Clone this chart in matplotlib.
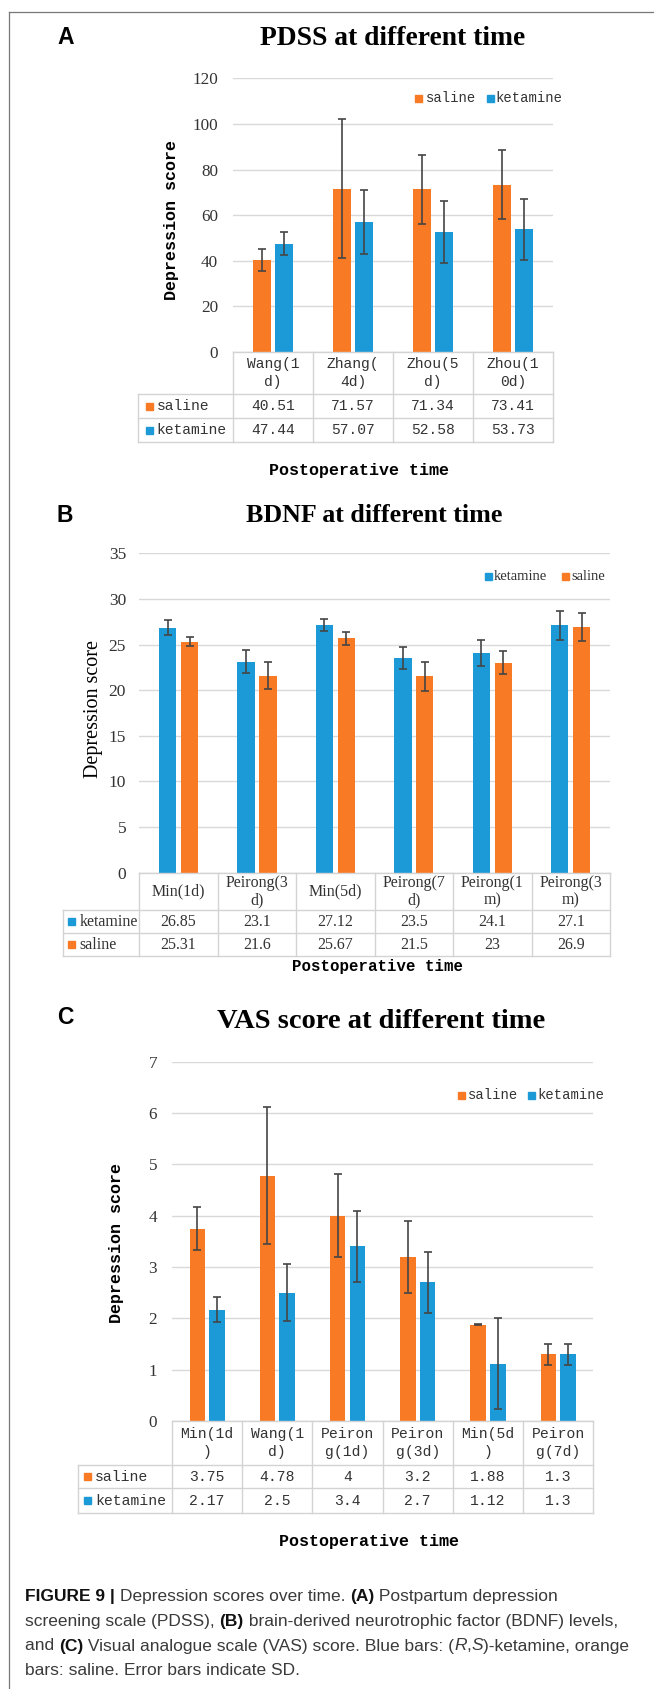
import numpy as np
import matplotlib
matplotlib.use('Agg')
import matplotlib.pyplot as plt
from matplotlib.lines import Line2D
from matplotlib.patches import Rectangle

# ---- data ----
cats_a = ['Wang(1\nd)', 'Zhang(\n4d)', 'Zhou(5\nd)', 'Zhou(1\n0d)']
saline_a = [40.51, 71.57, 71.34, 73.41]
ket_a = [47.44, 57.07, 52.58, 53.73]
saline_sd_a = [4.8, 30.5, 15.2, 15.2]
ket_sd_a = [5.1, 14.0, 13.5, 13.3]

cats_b = ['Min(1d)', 'Peirong(3\nd)', 'Min(5d)', 'Peirong(7\nd)', 'Peirong(1\nm)', 'Peirong(3\nm)']
ket_b = [26.85, 23.1, 27.12, 23.5, 24.1, 27.1]
saline_b = [25.31, 21.6, 25.67, 21.5, 23, 26.9]
ket_sd_b = [0.8, 1.25, 0.65, 1.2, 1.4, 1.55]
saline_sd_b = [0.5, 1.5, 0.75, 1.6, 1.25, 1.55]

cats_c = ['Min(1d\n)', 'Wang(1\nd)', 'Peiron\ng(1d)', 'Peiron\ng(3d)', 'Min(5d\n)', 'Peiron\ng(7d)']
saline_c = [3.75, 4.78, 4, 3.2, 1.88, 1.3]
ket_c = [2.17, 2.5, 3.4, 2.7, 1.12, 1.3]
saline_sd_c = [0.42, 1.34, 0.81, 0.7, 0.01, 0.2]
ket_sd_c = [0.24, 0.55, 0.7, 0.6, 0.88, 0.2]

ORANGE = '#F97A24'
BLUE = '#1B9AD7'
GRID = '#D9D9D9'
TBL = '#D3D3D3'
TXT = '#333333'
MONO = 'Liberation Mono'
SERIF = 'Liberation Serif'

W, H = 654, 1689
fig = plt.figure(figsize=(W / 100, H / 100), dpi=100)


def fx(x):
    return x / W


def fy(y):
    return 1 - y / H


def hline(x0, x1, y, color=TBL, lw=1.0):
    fig.add_artist(Line2D([fx(x0), fx(x1)], [fy(y), fy(y)], color=color, lw=lw, transform=fig.transFigure))


def vline(x, y0, y1, color=TBL, lw=1.0):
    fig.add_artist(Line2D([fx(x), fx(x)], [fy(y0), fy(y1)], color=color, lw=lw, transform=fig.transFigure))


def square(x, y, color, s=7):
    fig.add_artist(Rectangle((fx(x), fy(y + s / 2)), s / W, s / H, color=color, transform=fig.transFigure))


def panel(box, cats, series, ymax, ystep, rows, label_left, tfont, tsize, head_ls,
          sq_dx, txt_dx, tick_size, tick_pad, legend, legfont, legsize, capsize):
    left, top, right, bottom = box
    ax = fig.add_axes([fx(left), fy(bottom), (right - left) / W, (bottom - top) / H])
    n = len(cats)
    x = np.arange(n)
    for k, (name, vals, sds, col) in enumerate(series):
        off = -0.14 if k == 0 else 0.14
        ax.bar(x + off, vals, width=0.22, color=col, zorder=2)
        ax.errorbar(x + off, vals, yerr=sds, fmt='none', ecolor='#454545', elinewidth=1.2,
                    capsize=capsize, capthick=1.2, zorder=3)
    ax.set_xlim(-0.5, n - 0.5)
    ax.set_ylim(0, ymax)
    ax.set_yticks(np.arange(0, ymax + ystep / 2, ystep))
    ax.yaxis.grid(True, color=GRID, lw=1.0, zorder=0)
    ax.set_axisbelow(True)
    ax.set_xticks([])
    for s in ax.spines.values():
        s.set_visible(False)
    ax.tick_params(axis='y', length=0, pad=tick_pad, labelsize=tick_size, labelcolor=TXT)
    for t in ax.get_yticklabels():
        t.set_fontfamily(SERIF)

    # data table under the plot
    colw = (right - left) / n
    r0, r1, r2 = rows
    hline(left, right, bottom)
    for yy in (r0, r1, r2):
        hline(label_left, right, yy)
    for i in range(n + 1):
        vline(left + i * colw, bottom, r2)
    vline(label_left, r0, r2)
    for i, c in enumerate(cats):
        fig.text(fx(left + (i + 0.5) * colw), fy((bottom + r0) / 2), c, ha='center', va='center',
                 family=tfont, size=tsize, linespacing=head_ls, color=TXT)
    for j, (name, vals, sds, col) in enumerate(series):
        ya, yb = (r0, r1) if j == 0 else (r1, r2)
        yc = (ya + yb) / 2
        square(label_left + sq_dx, yc, col)
        fig.text(fx(label_left + txt_dx), fy(yc), name, ha='left', va='center', family=tfont,
                 size=tsize, color=TXT)
        for i, v in enumerate(vals):
            fig.text(fx(left + (i + 0.5) * colw), fy(yc), f'{v:g}', ha='center', va='center',
                     family=tfont, size=tsize, color=TXT)

    # legend
    for (lx, ly, tx), (name, vals, sds, col) in zip(legend, series):
        square(lx, ly, col)
        fig.text(fx(tx), fy(ly), name, ha='left', va='center', family=legfont,
                 size=legsize, color=TXT)
    return ax


# frame
hline(9.3, 654, 11.5, color='#777777', lw=0.9)
vline(9.3, 11.5, 1689, color='#777777', lw=0.9)

# ---- panel A ----
fig.text(fx(66), fy(38), 'A', ha='center', va='center', family='Liberation Sans', weight='bold', size=16.5)
fig.text(fx(392.5), fy(38.3), 'PDSS at different time', ha='center', va='center', family=SERIF,
         weight='bold', size=19.8)
panel((233, 78.3, 553, 352), cats_a,
      [('saline', saline_a, saline_sd_a, ORANGE), ('ketamine', ket_a, ket_sd_a, BLUE)],
      120, 20, (394, 418, 442), 138, MONO, 10.5, 1.4, 8, 18.5, 12.3, 10.8,
      [(415, 98.3, 426), (487, 98.3, 495)], MONO, 10, 3)
fig.text(fx(171.7), fy(220), 'Depression score', rotation=90, ha='center', va='center', family=MONO,
         weight='bold', size=12)
fig.text(fx(359), fy(470), 'Postoperative time', ha='center', va='center', family=MONO,
         weight='bold', size=12)

# ---- panel B ----
fig.text(fx(65), fy(515), 'B', ha='center', va='center', family='Liberation Sans', weight='bold', size=16.5)
fig.text(fx(374), fy(516), 'BDNF at different time', ha='center', va='center', family=SERIF,
         weight='bold', size=18.7)
panel((139.3, 553.3, 610, 872.7), cats_b,
      [('ketamine', ket_b, ket_sd_b, BLUE), ('saline', saline_b, saline_sd_b, ORANGE)],
      35, 5, (910, 933.3, 956), 63.3, SERIF, 11.5, 1.1, 5, 16, 12.5, 9.5,
      [(485, 576.7, 494), (562.3, 576.7, 571.7)], SERIF, 10.5, 3.2)
fig.text(fx(93.3), fy(709), 'Depression score', rotation=90, ha='center', va='center', family=SERIF,
         size=14.5)
fig.text(fx(377), fy(966.7), 'Postoperative time', ha='center', va='center', family=MONO,
         weight='bold', size=11.3)

# ---- panel C ----
fig.text(fx(65), fy(1018), 'C', ha='center', va='center', family='Liberation Sans', weight='bold', size=16.5)
fig.text(fx(381.5), fy(1021), 'VAS score at different time', ha='center', va='center', family=SERIF,
         weight='bold', size=20.5)
panel((172, 1061.7, 593.3, 1421), cats_c,
      [('saline', saline_c, saline_sd_c, ORANGE), ('ketamine', ket_c, ket_sd_c, BLUE)],
      7, 1, (1465, 1488.3, 1513.3), 78.3, MONO, 10.6, 1.4, 6, 16.7, 12.3, 10.8,
      [(457.7, 1095, 468.3), (527.7, 1095, 537.3)], MONO, 10, 3)
fig.text(fx(116.7), fy(1243), 'Depression score', rotation=90, ha='center', va='center', family=MONO,
         weight='bold', size=12)
fig.text(fx(369), fy(1541.5), 'Postoperative time', ha='center', va='center', family=MONO,
         weight='bold', size=12)

# ---- caption ----
caption = [
    [('FIGURE 9 | ', 'bold', 'normal'), ('Depression scores over time. ', 'normal', 'normal'),
     ('(A)', 'bold', 'normal'), (' Postpartum depression', 'normal', 'normal')],
    [('screening scale (PDSS), ', 'normal', 'normal'), ('(B)', 'bold', 'normal'),
     (' brain-derived neurotrophic factor (BDNF) levels,', 'normal', 'normal')],
    [('and ', 'normal', 'normal'), ('(C)', 'bold', 'normal'),
     (' Visual analogue scale (VAS) score. Blue bars: (', 'normal', 'normal'),
     ('R', 'normal', 'italic'), (',', 'normal', 'normal'), ('S', 'normal', 'italic'),
     (')-ketamine, orange', 'normal', 'normal')],
    [('bars: saline. Error bars indicate SD.', 'normal', 'normal')],
]
renderer = fig.canvas.get_renderer()
for li, line in enumerate(caption):
    xpos = 25
    base = 1601.5 + li * 24.5
    for txt, wt, st in line:
        col = '#111111' if wt == 'bold' else '#3a3a3a'
        t = fig.text(fx(xpos), fy(base), txt, ha='left', va='baseline', family='Liberation Sans',
                     weight=wt, style=st, size=12.5, color=col)
        bb = t.get_window_extent(renderer=renderer)
        xpos += bb.width

fig.savefig('out.png', dpi=100)
